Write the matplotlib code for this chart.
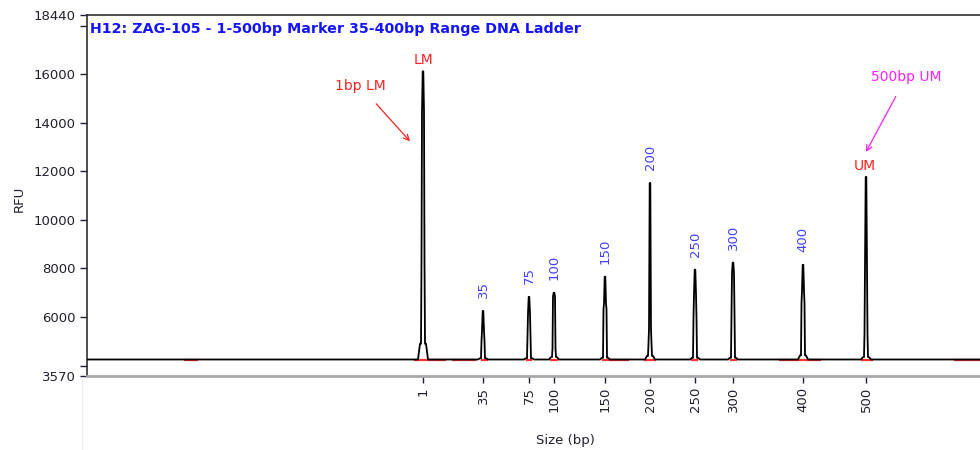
import matplotlib
matplotlib.use('Agg')
import matplotlib.pyplot as plt
import matplotlib.transforms as mtransforms
import numpy as np

# ladder peaks: size label, migration time (s), heights of the spike
sizes = ['1', '35', '75', '100', '150', '200', '250', '300', '400', '500']
mig_time = [33.6, 39.6, 44.2, 46.7, 51.8, 56.3, 60.8, 64.6, 71.6, 77.9]
peak_top = [16120, 6250, 6830, 7000, 7660, 11520, 7950, 8240, 8150, 11770]
peak_mid = [14470, 5430, 6150, 6850, 6540, 5500, 6950, 7800, 7080, 8080]
peak_low = [8300, 5000, 5200, 4700, 6330, 4920, 5960, 6120, 6580, 5300]
peak_foot = [4900, 4300, 4300, 4350, 4320, 4400, 4320, 4320, 4420, 4350]

baseline = 4250
time_range = (0, 89.3)
ymin, ymax = 3570, 18440

# peak baseline segments drawn in red (start, end time)
red_spans = [(9.8, 11.0), (32.8, 35.8), (36.6, 38.8), (39.5, 40.0), (44.0, 44.4),
             (46.4, 47.0), (51.6, 54.1), (55.8, 56.8), (60.5, 61.0), (64.4, 64.9),
             (69.3, 73.3), (77.5, 78.5), (86.8, 89.3)]

fig = plt.figure(figsize=(9.8, 4.5), dpi=100)
ax = fig.add_axes([87 / 980, 1 - 376 / 450, 1 - 87 / 980, (376 - 15) / 450])

# build the electropherogram trace from the peak table
dt = [-0.5, -0.3, -0.2, -0.15, -0.1, -0.03, 0.03, 0.1, 0.15, 0.2, 0.3, 0.5]
xs, ys = [time_range[0]], [baseline]
for t, top, mid, low, foot in zip(mig_time, peak_top, peak_mid, peak_low, peak_foot):
    hs = [baseline, foot, foot, low, mid, top, top, mid, low, foot, foot, baseline]
    xs += [t + d for d in dt]
    ys += hs
xs.append(time_range[1])
ys.append(baseline)
ax.plot(xs, ys, color='black', lw=1.3, zorder=3)

for a, b in red_spans:
    ax.plot([a, b], [baseline - 40, baseline - 40], color='#ff3030', lw=1.6, zorder=2)

# size labels above ladder peaks
for s, t, top in zip(sizes[1:-1], mig_time[1:-1], peak_top[1:-1]):
    ax.annotate(s, (t, top), xytext=(0, 9), textcoords='offset points',
                rotation=90, ha='center', va='bottom', fontsize=9.5, color='#4040ff')

ax.annotate('LM', (mig_time[0], peak_top[0]), xytext=(0, 3), textcoords='offset points',
            ha='center', va='bottom', fontsize=10, color='#ff2020')
ax.annotate('UM', (mig_time[-1], peak_top[-1]), xytext=(-1, 3), textcoords='offset points',
            ha='center', va='bottom', fontsize=10, color='#ff2020')

# hand-drawn style call-outs
tip_lm = mtransforms.offset_copy(ax.transData, fig, x=-13, y=-70, units='dots')
ax.annotate('1bp LM', (mig_time[0], peak_top[0]), xycoords=tip_lm,
            xytext=(-36, 40), textcoords='offset points', ha='center', va='center',
            fontsize=10, color='#ff2020',
            arrowprops=dict(arrowstyle='->', color='#ff2020', lw=0.9, shrinkA=8, shrinkB=0))
tip_um = mtransforms.offset_copy(ax.transData, fig, x=0, y=25, units='dots')
ax.annotate('500bp UM', (mig_time[-1], peak_top[-1]), xycoords=tip_um,
            xytext=(29, 54), textcoords='offset points', ha='center', va='center',
            fontsize=10, color='#ff20ff',
            arrowprops=dict(arrowstyle='->', color='#ff20ff', lw=0.9, shrinkA=8, shrinkB=0))

ax.text(0.003, 0.98, 'H12: ZAG-105 - 1-500bp Marker 35-400bp Range DNA Ladder',
        transform=ax.transAxes, ha='left', va='top', fontsize=10.3,
        fontweight='bold', color='#1414ff')

ax.set_xlim(*time_range)
ax.set_ylim(ymin, ymax)
ax.set_xticks(mig_time)
ax.set_xticklabels(sizes, rotation=90, fontsize=9.5, color='#202030')
yt = [ymin, 4000, 6000, 8000, 10000, 12000, 14000, 16000, 18000, ymax]
ax.set_yticks(yt)
ax.set_yticklabels([str(v) if v not in (4000, 18000) else '' for v in yt],
                   fontsize=9.5, color='#202030')
ax.tick_params(axis='both', direction='out', length=5, width=1, colors='#202030', pad=3)

for side in ['left', 'top']:
    ax.spines[side].set_color('#303030')
    ax.spines[side].set_linewidth(1.2)
ax.spines['right'].set_visible(False)
ax.spines['bottom'].set_color('#a8a8a8')
ax.spines['bottom'].set_linewidth(2)

ax.set_ylabel('RFU', fontsize=9.5, color='#202030')
ax.yaxis.set_label_coords(-0.069, 0.49)
ax.set_xlabel('Size (bp)', fontsize=9.5, color='#202030')
ax.xaxis.set_label_coords((565 - 87) / 893, -0.16)

fig.add_artist(plt.Line2D([82 / 980, 82 / 980], [0, 1 - 378 / 450], color='#ececec', lw=1))

fig.savefig('out.png', dpi=100)
